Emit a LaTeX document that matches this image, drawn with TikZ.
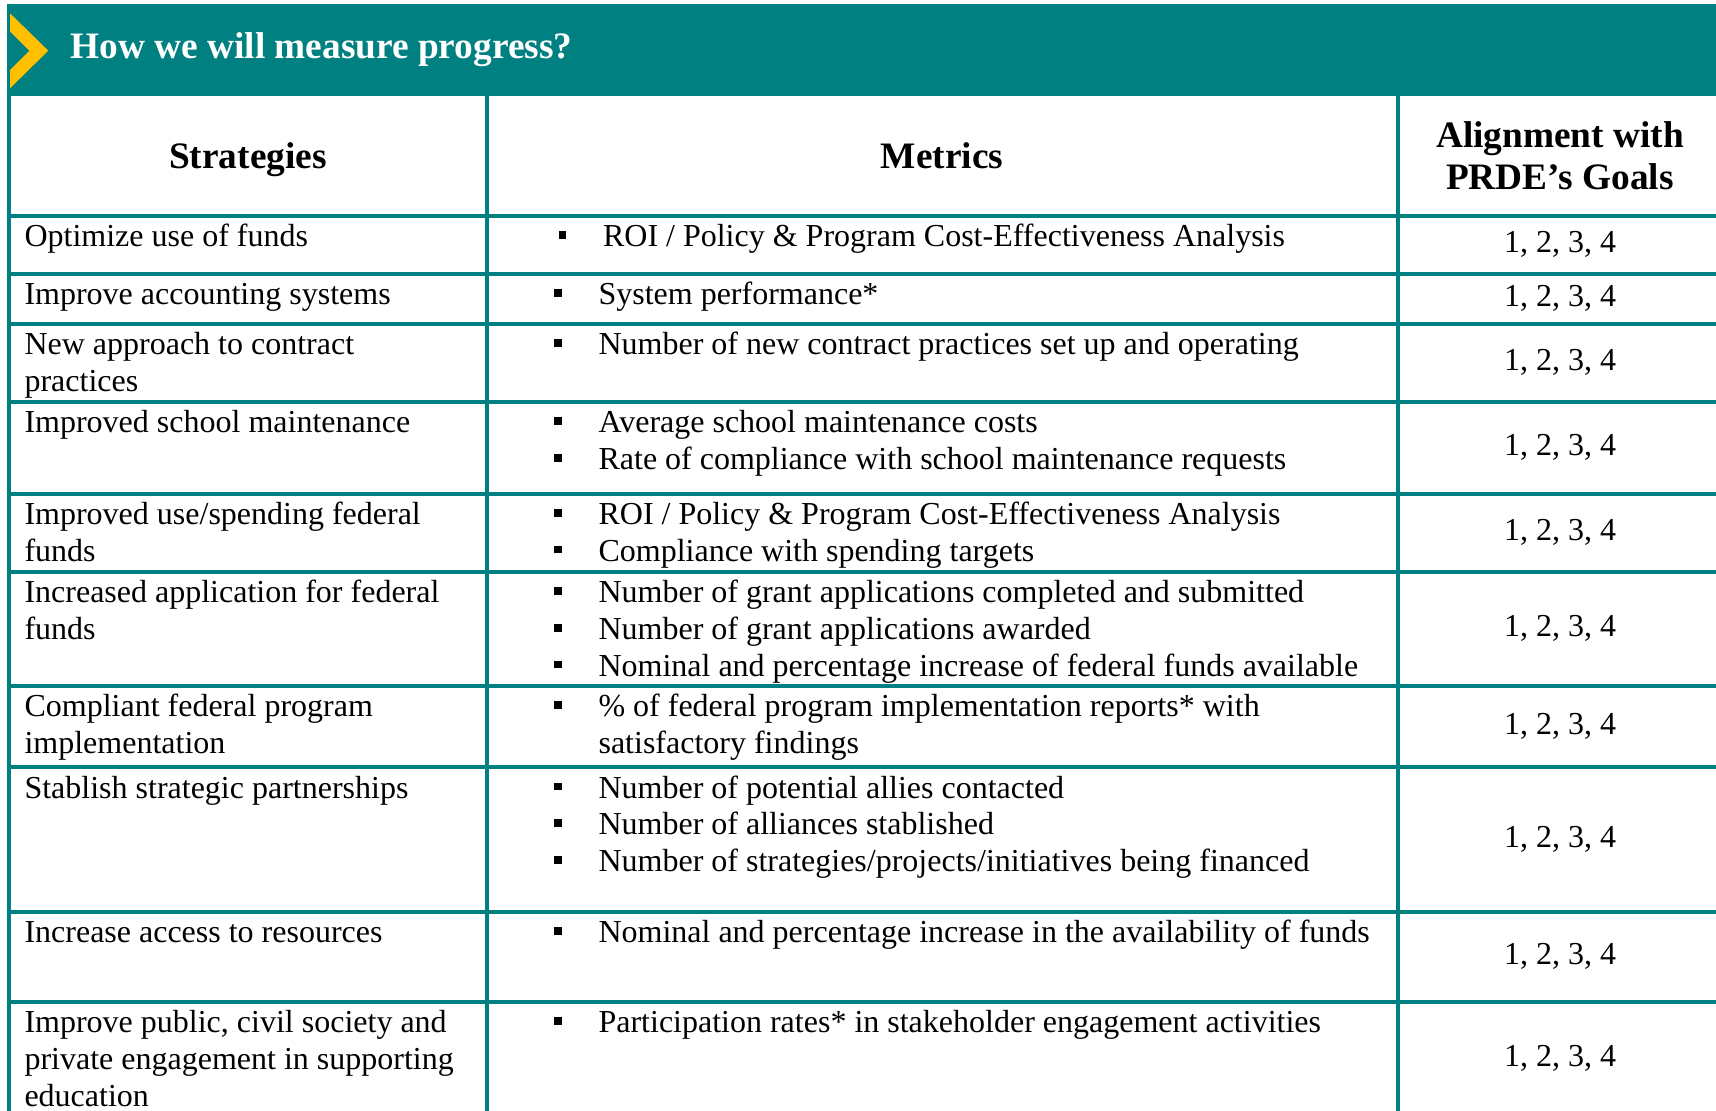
\documentclass[tikz,border=0pt]{standalone}
\usepackage{fontspec}
\setmainfont{Liberation Serif}
\usetikzlibrary{positioning}

\newcommand{\sqbullet}{\raisebox{2.9pt}{\rule{2.9pt}{2.9pt}}}
\newcommand{\mline}[1]{\makebox[16.7pt][l]{\sqbullet}#1}
\newcommand{\mcont}[1]{\makebox[16.7pt][l]{}#1}
\newcommand{\cellrows}[1]{\begin{tabular}[t]{@{}l@{}}#1\end{tabular}}

\begin{document}
\begin{tikzpicture}[x=0.375pt, y=-0.375pt,
        every node/.style={font=\fontsize{12}{13.75}\selectfont, inner sep=0pt},
        celltext/.style={anchor=base west},
        goals/.style={anchor=center},
        colhead/.style={font=\fontsize{14}{15.8}\selectfont\bfseries, align=center},
        gridline/.style={draw=prdeteal, line width=1.5pt}]
        \definecolor{prdeteal}{RGB}{0,128,128}
        \definecolor{prdegold}{RGB}{255,192,0}

        \useasboundingbox (0,0) rectangle (1716,1111);

        % Title band with chevron
        \fill[prdeteal] (7,4) rectangle (1716,96);
        \fill[prdegold] (10,13.3) -- (48.3,50.7) -- (10,88.3) -- (10,70) -- (29.3,50.7) -- (10,31.4) -- cycle;
        \node[anchor=base west, text=white, font=\fontsize{14}{16}\selectfont\bfseries] (title) at (70,58) {How we will measure progress?};

        % Grid lines
        \draw[gridline] (8.7,95) -- (8.7,1111) (487,95) -- (487,1111) (1398,95) -- (1398,1111);
        \draw[gridline] (6.7,215.7) -- (1716,215.7) (6.7,273.5) -- (1716,273.5)
            (6.7,323.5) -- (1716,323.5) (6.7,401.7) -- (1716,401.7)
            (6.7,493.5) -- (1716,493.5) (6.7,571.7) -- (1716,571.7)
            (6.7,685.7) -- (1716,685.7) (6.7,767) -- (1716,767)
            (6.7,911.7) -- (1716,911.7) (6.7,1001.7) -- (1716,1001.7);

        % Column heads
        \node[colhead, anchor=base] (hstrat) at (248,168) {Strategies};
        \node[colhead, anchor=base] (hmetric) at (942,168) {Metrics};
        \node[colhead] (hgoals) at (1560,156) {Alignment with\\PRDE's Goals};

        % Strategies
        \node[celltext] (s1) at (24,246.7) {Optimize use of funds};
        \node[celltext] (s2) at (24,304.5) {Improve accounting systems};
        \node[celltext] (s3) at (24,354.5) {\cellrows{New approach to contract\\practices}};
        \node[celltext] (s4) at (24,432.7) {Improved school maintenance};
        \node[celltext] (s5) at (24,524.5) {\cellrows{Improved use/spending federal\\funds}};
        \node[celltext] (s6) at (24,602.7) {\cellrows{Increased application for federal\\funds}};
        \node[celltext] (s7) at (24,716.7) {\cellrows{Compliant federal program\\implementation}};
        \node[celltext] (s8) at (24,798) {Stablish strategic partnerships};
        \node[celltext] (s9) at (24,942.7) {Increase access to resources};
        \node[celltext] (s10) at (24,1032.7) {\cellrows{Improve public, civil society and\\private engagement in supporting\\education}};

        % Metrics
        \node[celltext] (m1) at (558,246.7) {\mline{ROI / Policy \& Program Cost-Effectiveness Analysis}};
        \node[celltext] (m2) at (553.5,304.5) {\mline{System performance*}};
        \node[celltext] (m3) at (553.5,354.5) {\mline{Number of new contract practices set up and operating}};
        \node[celltext] (m4) at (553.5,432.7) {\cellrows{\mline{Average school maintenance costs}\\
            \mline{Rate of compliance with school maintenance requests}}};
        \node[celltext] (m5) at (553.5,524.5) {\cellrows{\mline{ROI / Policy \& Program Cost-Effectiveness Analysis}\\
            \mline{Compliance with spending targets}}};
        \node[celltext] (m6) at (553.5,602.7) {\cellrows{\mline{Number of grant applications completed and submitted}\\
            \mline{Number of grant applications awarded}\\
            \mline{Nominal and percentage increase of federal funds available}}};
        \node[celltext] (m7) at (553.5,716.7) {\cellrows{\mline{\% of federal program implementation reports* with}\\
            \mcont{satisfactory findings}}};
        \node[celltext] (m8) at (553.5,798) {\cellrows{\mline{Number of potential allies contacted}\\
            \mline{Number of alliances stablished}\\
            \mline{Number of strategies/projects/initiatives being financed}}};
        \node[celltext] (m9) at (553.5,942.7) {\mline{Nominal and percentage increase in the availability of funds}};
        \node[celltext] (m10) at (553.5,1032.7) {\mline{Participation rates* in stakeholder engagement activities}};

        % Alignment with goals
        \node[goals] (g1) at (1560,244.6) {1, 2, 3, 4};
        \node[goals] (g2) at (1560,298.5) {1, 2, 3, 4};
        \node[goals] (g3) at (1560,362.6) {1, 2, 3, 4};
        \node[goals] (g4) at (1560,447.6) {1, 2, 3, 4};
        \node[goals] (g5) at (1560,532.6) {1, 2, 3, 4};
        \node[goals] (g6) at (1560,628.7) {1, 2, 3, 4};
        \node[goals] (g7) at (1560,726.3) {1, 2, 3, 4};
        \node[goals] (g8) at (1560,839.4) {1, 2, 3, 4};
        \node[goals] (g9) at (1560,956.7) {1, 2, 3, 4};
        \node[goals] (g10) at (1560,1058) {1, 2, 3, 4};
    \end{tikzpicture}
\end{document}
